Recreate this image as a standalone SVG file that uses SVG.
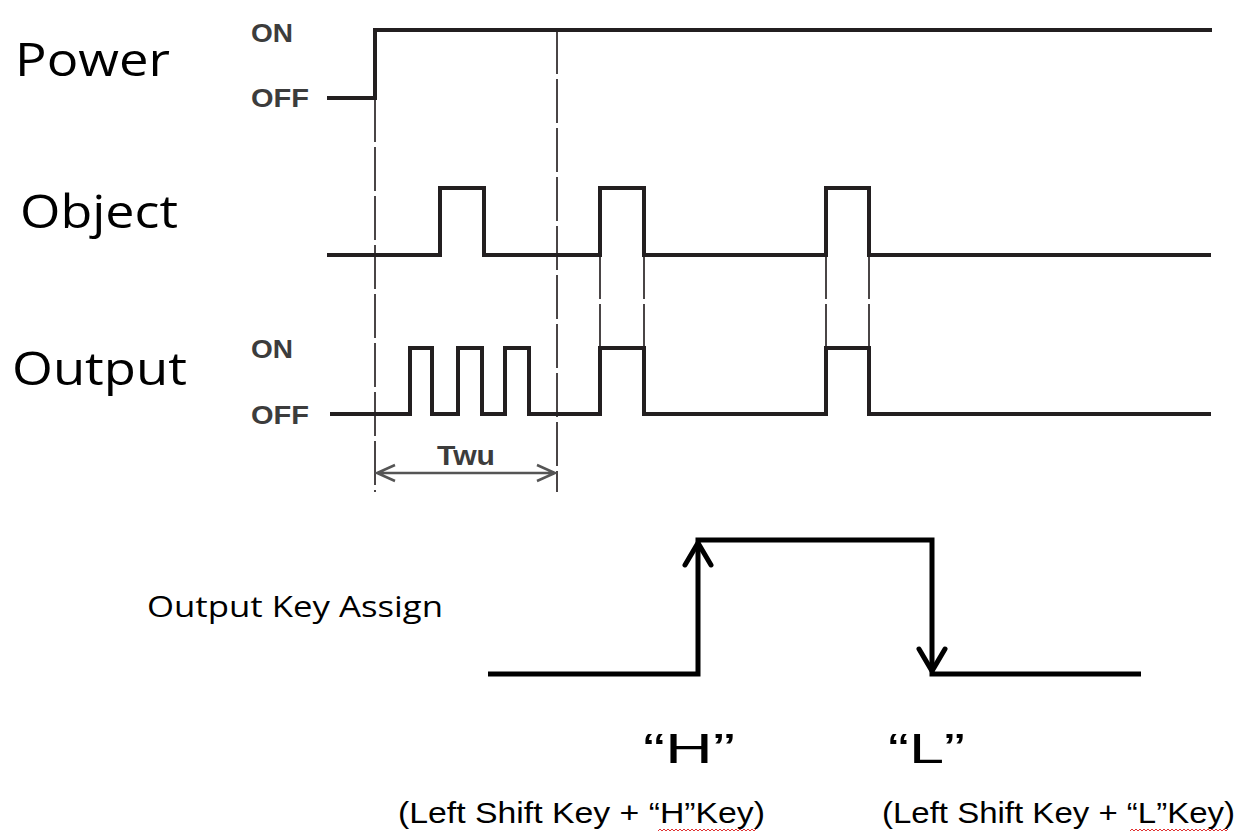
<svg xmlns="http://www.w3.org/2000/svg" width="1239" height="834" viewBox="0 0 1239 834">
<style>
.wave{fill:none;stroke:#231f20;stroke-width:4;stroke-linejoin:miter;stroke-linecap:butt}
.dash{fill:none;stroke:#4a4546;stroke-width:2;stroke-dasharray:44 5}
.key{fill:none;stroke:#000;stroke-width:5;stroke-linecap:butt}
.head{fill:none;stroke:#000;stroke-width:5;stroke-linecap:round;stroke-linejoin:miter}
.big{font-family:"Open Sans","Liberation Sans",sans-serif;font-size:45px;fill:#000}
.lvl{font-family:"Liberation Sans",Arial,sans-serif;font-size:25px;font-weight:bold;fill:#3c3c3c}
.cal{font-family:"Liberation Sans",Arial,sans-serif;fill:#000}
</style>
<rect width="1239" height="834" fill="#fff"/>
<g id="labels">
<text class="big" x="15" y="76" textLength="155" lengthAdjust="spacingAndGlyphs">Power</text>
<text class="big" x="20" y="228" textLength="158" lengthAdjust="spacingAndGlyphs">Object</text>
<text class="big" x="12" y="385" textLength="175" lengthAdjust="spacingAndGlyphs">Output</text>
<text class="lvl" x="251" y="42" textLength="42" lengthAdjust="spacingAndGlyphs">ON</text>
<text class="lvl" x="251" y="107" textLength="58" lengthAdjust="spacingAndGlyphs">OFF</text>
<text class="lvl" x="251" y="358" textLength="42" lengthAdjust="spacingAndGlyphs">ON</text>
<text class="lvl" x="251" y="424" textLength="58" lengthAdjust="spacingAndGlyphs">OFF</text>
</g>
<g id="connectors">
<path class="dash" d="M375 98 V492"/>
<path class="dash" d="M557 30 V492"/>
<path class="dash" d="M600 255 V348 M644 255 V348 M826 255 V348 M869 255 V348"/>
<path fill="none" stroke="#555" stroke-width="2.5" d="M377 473 H555 M395 465 L377 473 L395 481 M537 465 L555 473 L537 481"/>
</g>
<g id="power">
<path class="wave" d="M327 98 H375 V30 H1212"/>
</g>
<g id="object">
<path class="wave" d="M327 255 H440 V188 H484 V255 H600 V188 H644 V255 H826 V188 H869 V255 H1211"/>
</g>
<g id="output">
<path class="wave" d="M330 414 H410 V348 H432 V414 H458 V348 H482 V414 H505 V348 H529 V414 H600 V348 H644 V414 H826 V348 H869 V414 H1211"/>
</g>
<g id="twu">
<text class="lvl" x="437" y="465" font-size="27" style="font-size:27px" textLength="58" lengthAdjust="spacingAndGlyphs">Twu</text>
</g>
<g id="keyassign">
<text x="147" y="617" font-family="'Open Sans','Liberation Sans',sans-serif" font-size="29" fill="#000" textLength="296" lengthAdjust="spacingAndGlyphs">Output Key Assign</text>
<path class="key" d="M488 674 H698 V540 H932 V674 H1141"/>
<path class="head" d="M685 565 L698 543 L711 565"/>
<path class="head" d="M919 649 L932 671 L945 649"/>
<text class="cal" x="643" y="763" font-size="42" textLength="92" lengthAdjust="spacingAndGlyphs">“H”</text>
<text class="cal" x="888" y="763" font-size="42" textLength="77" lengthAdjust="spacingAndGlyphs">“L”</text>
<text class="cal" x="398" y="823" font-size="30" textLength="367" lengthAdjust="spacingAndGlyphs">(Left Shift Key + “H”Key)</text>
<text class="cal" x="882" y="823" font-size="30" textLength="353" lengthAdjust="spacingAndGlyphs">(Left Shift Key + “L”Key)</text>
<path fill="none" stroke="#e03030" stroke-width="1" d="M658 831 l2 -2 l2 2 l2 -2 l2 2 l2 -2 l2 2 l2 -2 l2 2 l2 -2 l2 2 l2 -2 l2 2 l2 -2 l2 2 l2 -2 l2 2 l2 -2 l2 2 l2 -2 l2 2 l2 -2 l2 2 l2 -2 l2 2 l2 -2 l2 2 l2 -2 l2 2 l2 -2 l2 2 l2 -2 l2 2 l2 -2 l2 2 l2 -2 l2 2 l2 -2 l2 2 l2 -2 l2 2 l2 -2 l2 2 l2 -2 l2 2 l2 -2 l2 2 l2 -2 l2 2 l2 -2"/>
<path fill="none" stroke="#e03030" stroke-width="1" d="M1130 831 l2 -2 l2 2 l2 -2 l2 2 l2 -2 l2 2 l2 -2 l2 2 l2 -2 l2 2 l2 -2 l2 2 l2 -2 l2 2 l2 -2 l2 2 l2 -2 l2 2 l2 -2 l2 2 l2 -2 l2 2 l2 -2 l2 2 l2 -2 l2 2 l2 -2 l2 2 l2 -2 l2 2 l2 -2 l2 2 l2 -2 l2 2 l2 -2 l2 2 l2 -2 l2 2 l2 -2 l2 2 l2 -2 l2 2 l2 -2 l2 2 l2 -2 l2 2 l2 -2 l2 2 l2 -2"/>
</g>
</svg>
